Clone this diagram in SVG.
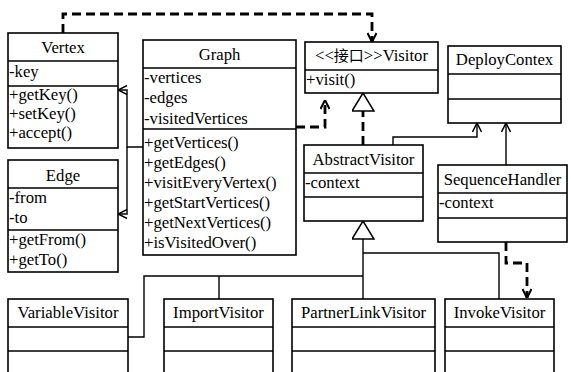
<svg xmlns="http://www.w3.org/2000/svg" width="571" height="372" viewBox="0 0 571 372">
  <style>
    .box { fill: #ffffff; stroke: #000000; stroke-width: 1.6; }
    .div { stroke: #000000; stroke-width: 1.6; fill: none; }
    text { font-size: 16.7px; fill: #000000; }
    .c { text-anchor: middle; }
    .solid { fill: none; stroke: #000000; stroke-width: 1.4; }
    .dash { fill: none; stroke: #000000; stroke-width: 2.8; stroke-dasharray: 9 5; }
  </style>
  <defs>
    <marker id="open" viewBox="0 0 10 10" refX="10" refY="5" markerWidth="10" markerHeight="10" markerUnits="userSpaceOnUse" orient="auto">
      <path d="M1,0.5 L10,5 L1,9.5" fill="none" stroke="#000000" stroke-width="1.5"/>
    </marker>
    <marker id="openBold" viewBox="0 0 10 10" refX="10" refY="5" markerWidth="10" markerHeight="10" markerUnits="userSpaceOnUse" orient="auto">
      <path d="M1,0.5 L10,5 L1,9.5" fill="none" stroke="#000000" stroke-width="2" stroke-dasharray="none"/>
    </marker>
    <marker id="tri" viewBox="0 0 19 23" refX="18.5" refY="11.5" markerWidth="19" markerHeight="23" markerUnits="userSpaceOnUse" orient="auto">
      <path d="M18.5,11.5 L0.5,0.5 L0.5,22.5 Z" fill="#ffffff" stroke="#000000" stroke-width="1.5" stroke-dasharray="none"/>
    </marker>
  </defs>

  <rect width="571" height="372" fill="#ffffff"/>

  <!-- connectors -->
  <g id="connectors">
    <!-- Vertex uses Visitor -->
    <path class="dash" d="M63,33 V14 H372 V42" marker-end="url(#openBold)"/>
    <!-- Graph uses Visitor -->
    <path class="dash" d="M296,127 H325 V100" marker-end="url(#openBold)"/>
    <!-- Graph aggregates Vertex and Edge -->
    <path class="solid" d="M143,147 H127 V90 H118" marker-end="url(#open)"/>
    <path class="solid" d="M127,147 V214 H118" marker-end="url(#open)"/>
    <!-- AbstractVisitor realizes Visitor -->
    <path class="dash" d="M363,145 V93" marker-end="url(#tri)"/>
    <!-- associations to DeployContex -->
    <path class="solid" d="M393,145 V137 H477 V123" marker-end="url(#open)"/>
    <path class="solid" d="M506,165 V123" marker-end="url(#open)"/>
    <!-- SequenceHandler uses InvokeVisitor -->
    <path class="dash" d="M506,242 V263 H527 V298" marker-end="url(#openBold)"/>
    <!-- concrete visitors extend AbstractVisitor -->
    <path class="solid" d="M363,299 V221" marker-end="url(#tri)"/>
    <path class="solid" d="M363,253 H499 V299"/>
    <path class="solid" d="M363,276 H144 V337 H128"/>
    <path class="solid" d="M219,276 V299"/>
  </g>

  <g font-family="Liberation Serif, Times New Roman, Noto Sans CJK SC, serif">
  <g id="vertex">
    <rect class="box" x="8" y="33" width="110" height="115"/>
    <path class="div" d="M8,61 H118 M8,86 H118"/>
    <text class="c" x="63" y="53">Vertex</text>
    <text x="9" y="77">-key</text>
    <text x="9" y="100">+getKey()</text>
    <text x="9" y="119">+setKey()</text>
    <text x="9" y="138">+accept()</text>
  </g>

  <g id="edge">
    <rect class="box" x="8" y="160" width="110" height="112"/>
    <path class="div" d="M8,188 H118 M8,230 H118"/>
    <text class="c" x="63" y="181">Edge</text>
    <text x="9" y="203">-from</text>
    <text x="9" y="223">-to</text>
    <text x="9" y="245">+getFrom()</text>
    <text x="9" y="265">+getTo()</text>
  </g>

  <g id="graph">
    <rect class="box" x="143" y="40" width="153" height="215"/>
    <path class="div" d="M143,68 H296 M143,129 H296"/>
    <text class="c" x="219.5" y="60">Graph</text>
    <text x="144" y="83">-vertices</text>
    <text x="144" y="103">-edges</text>
    <text x="144" y="124">-visitedVertices</text>
    <text x="144" y="148">+getVertices()</text>
    <text x="144" y="168">+getEdges()</text>
    <text x="144" y="188">+visitEveryVertex()</text>
    <text x="144" y="208">+getStartVertices()</text>
    <text x="144" y="228">+getNextVertices()</text>
    <text x="144" y="248">+isVisitedOver()</text>
  </g>

  <g id="visitor">
    <rect class="box" x="305" y="42" width="133" height="51"/>
    <path class="div" d="M305,70 H438"/>
    <text class="c" x="371.5" y="61">&lt;&lt;<tspan font-size="15">接口</tspan>&gt;&gt;Visitor</text>
    <text x="306" y="85">+visit()</text>
  </g>

  <g id="deploy-contex">
    <rect class="box" x="448" y="46" width="113" height="77"/>
    <path class="div" d="M448,74 H561 M448,99 H561"/>
    <text class="c" x="504.5" y="65">DeployContex</text>
  </g>

  <g id="abstract-visitor">
    <rect class="box" x="304" y="145" width="119" height="76"/>
    <path class="div" d="M304,173 H423 M304,197 H423"/>
    <text class="c" x="363.5" y="165">AbstractVisitor</text>
    <text x="305" y="188">-context</text>
  </g>

  <g id="sequence-handler">
    <rect class="box" x="438" y="165" width="129" height="77"/>
    <path class="div" d="M438,193 H567 M438,218 H567"/>
    <text class="c" x="502.5" y="185">SequenceHandler</text>
    <text x="439" y="208">-context</text>
  </g>

  <g id="variable-visitor">
    <rect class="box" x="8" y="299" width="120" height="90"/>
    <path class="div" d="M8,327 H128 M8,351 H128"/>
    <text class="c" x="68" y="318">VariableVisitor</text>
  </g>

  <g id="import-visitor">
    <rect class="box" x="164" y="299" width="109" height="90"/>
    <path class="div" d="M164,327 H273 M164,351 H273"/>
    <text class="c" x="218.5" y="318">ImportVisitor</text>
  </g>

  <g id="partner-link-visitor">
    <rect class="box" x="292" y="299" width="143" height="90"/>
    <path class="div" d="M292,327 H435 M292,351 H435"/>
    <text class="c" x="363.5" y="318">PartnerLinkVisitor</text>
  </g>

  <g id="invoke-visitor">
    <rect class="box" x="445" y="299" width="109" height="90"/>
    <path class="div" d="M445,327 H554 M445,351 H554"/>
    <text class="c" x="499.5" y="318">InvokeVisitor</text>
  </g>
  </g>
</svg>
